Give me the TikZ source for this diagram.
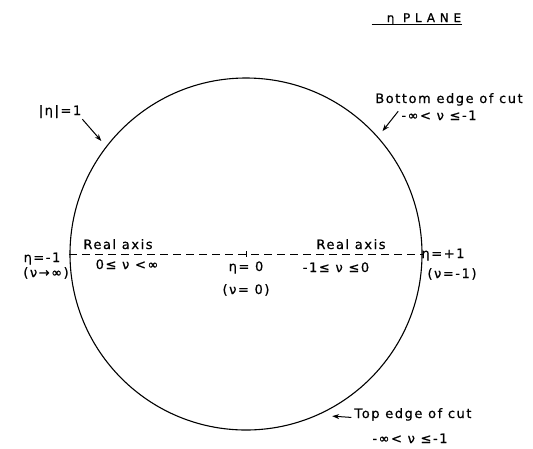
\documentclass[tikz,border=0pt]{standalone}
\usepackage{fontspec}
\setmainfont{DejaVu Sans}[LetterSpace=12, FakeBold=0.6]
\usetikzlibrary{arrows.meta, positioning, calc}

\begin{document}
\begin{tikzpicture}[x=1pt, y=-1pt,
  lbl/.style={font=\fontsize{13}{14}\selectfont, inner sep=1pt, anchor=base},
  pointer/.style={-{Stealth[length=7pt, width=5pt]}, line width=1pt},
  cut/.style={line width=0.8pt, dash pattern=on 8pt off 5pt},
]
  \useasboundingbox (0,0) rectangle (533,448);

  % Unit circle
  \node[draw, circle, line width=1.1pt, minimum size=352pt, inner sep=0pt] (disc) at (246,254) {};

  % Real axis
  \draw[cut] (disc.west) -- (disc.east);
  \draw[line width=0.8pt] (disc.center) ++(0,-3) -- ++(0,6);

  % Title
  \node[lbl, font=\fontsize{12}{13}\selectfont\addfontfeatures{LetterSpace=40}] (title) at (424,22) {η\ PLANE};
  \draw[line width=0.9pt] ([xshift=-14pt, yshift=-2pt]title.base west) -- ([yshift=-2pt]title.base east);

  % Axis labels
  \node[lbl] (realL) at (118,249) {Real axis};
  \node[lbl] (rangeL) at (127,269) {0≤ ν <∞};
  \node[lbl] (realR) at (351,249) {Real axis};
  \node[lbl] (rangeR) at (336,272) {-1≤ ν ≤0};
  \node[lbl] (origin) at (246,271) {η= 0};
  \node[lbl] (originnu) at (246,294) {(ν= 0)};
  \node[lbl] (minus) at (42,262) {η=-1};
  \node[lbl] (minusnu) at (46,277) {(ν→∞)};
  \node[lbl] (plus) at (443,258) {η=+1};
  \node[lbl] (plusnu) at (452,278) {(ν=-1)};

  % Circle and cut labels
  \node[lbl] (unit) at (60,115) {|η|=1};
  \node[lbl] (bottom) at (449,103) {Bottom edge of cut};
  \node[lbl] (bottomnu) at (439,120) {-∞< ν ≤-1};
  \node[lbl] (top) at (413,418) {Top edge of cut};
  \node[lbl] (topnu) at (410,443) {-∞< ν ≤-1};

  % Pointers
  \coordinate (unittip) at ($(disc.center)!1.04!(disc.142)$);
  \coordinate (bottomtip) at ($(disc.center)!1.04!(disc.42)$);
  \coordinate (toptip) at ($(disc.center)!1.04!(disc.-62)$);
  \draw[pointer] (unit.south east) -- (unittip);
  \draw[pointer] (bottomnu.west) ++(-2,-4) -- (bottomtip);
  \draw[pointer] (top.west) ++(-2,3) -- (toptip);
\end{tikzpicture}
\end{document}
